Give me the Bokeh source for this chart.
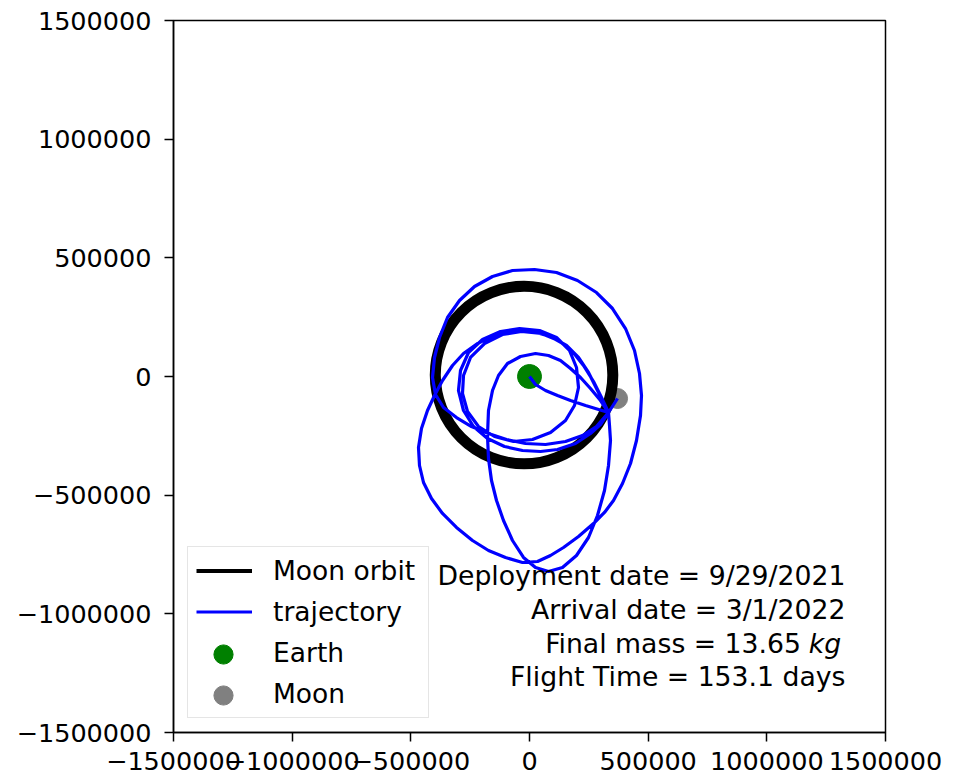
from bokeh.plotting import figure
from bokeh.models import Range1d, FixedTicker, Legend, LegendItem, Label
from bokeh.embed import file_html
from bokeh.resources import INLINE

# ---------------- data ----------------
tick_values = [-1500000, -1000000, -500000, 0, 500000, 1000000, 1500000]
tick_labels = ["\u22121500000", "\u22121000000", "\u2212500000", "0", "500000", "1000000", "1500000"]

earth_x = [0]
earth_y = [0]
moon_x = [371000]
moon_y = [-92700]

moon_orbit_cx = [-23000]
moon_orbit_cy = [6000]
moon_orbit_r = [374000]

# trajectory (km), in flight order
leg1_x = [0, 25300, 67400, 118000, 172800, 236000, 332900]
leg1_y = [0, -33700, -59000, -80100, -101100, -122200, -151700]

leg2_x = [299200, 257000, 214900, 172800, 130600, 80100, 25300, -37900, -92700, -130600,
          -155900, -172800, -177000, -172800, -160100, -139000, -109600, -71600, -25300, 25300,
          80100, 139000, 198000, 248600, 286500, 316000, 332900, 341300, 337100, 332900]
leg2_y = [-101100, -50600, -4200, 33700, 67400, 88500, 96900, 84300, 54800, 4200,
          -59000, -143300, -248600, -345500, -438200, -522500, -606700, -691000, -762600, -804800,
          -821600, -804800, -754200, -678400, -585700, -480300, -375000, -269700, -206500, -151700]

leg3_x = [311800, 282300, 248600, 206500, 155900, 88500, 12600, -71600, -151700, -219100,
          -278100, -324400, -366600, -400300, -429800, -455100, -467700, -463500, -446600, -412900,
          -366600, -307600, -240200, -172800, -101100, -29500, 33700, 88500, 143300, 206500,
          269700, 316000, 353900, 391900, 425600, 450800, 467700, 471900, 463500, 442400,
          404500, 349700, 282300, 202200, 113800, 21100, -71600, -155900, -231700, -294900,
          -345500, -379200, -400300, -408700, -396100, -362400, -307600, -244400, -172800, -96900,
          -16900, 67400, 151700, 223300, 282300, 332900]
leg3_y = [-109600, -50600, 16900, 80100, 130600, 168500, 189600, 189600, 172800, 139000,
          96900, 46300, -16900, -80100, -143300, -219100, -299200, -375000, -446600, -514000,
          -577200, -636200, -691000, -733100, -762600, -783700, -779500, -754200, -720500, -674200,
          -619400, -573000, -522500, -450800, -366600, -269700, -164300, -80100, 12600, 109600,
          202200, 286500, 353900, 404500, 438200, 450800, 446600, 421400, 379200, 320200,
          248600, 164300, 80100, -4200, -75800, -130600, -172800, -210700, -240200, -265500,
          -282300, -286500, -273900, -248600, -210700, -151700]

leg4_x = [299200, 257000, 193800, 118000, 46300, -29500, -105300, -177000, -236000, -278100,
          -299200, -290700, -257000, -198000, -122200, -42100, 42100, 113800, 168500, 198000,
          206500, 189600, 151700, 88500, 12600, -67400, -147500, -214900, -261200, -282300,
          -278100, -248600, -189600, -113800, -33700, 50600, 122200, 181200, 227500, 269700,
          303400, 332900, 370800]
leg4_y = [-202200, -240200, -282300, -307600, -316000, -311800, -294900, -261200, -210700, -143300,
          -59000, 25300, 101100, 155900, 189600, 202200, 193800, 164300, 109600, 37900,
          -46300, -122200, -185400, -236000, -265500, -273900, -252800, -210700, -147500, -71600,
          4200, 80100, 139000, 177000, 189600, 181200, 151700, 105300, 46300, -21100,
          -88500, -151700, -92700]

traj_x = leg1_x + leg2_x + leg3_x + leg4_x
traj_y = leg1_y + leg2_y + leg3_y + leg4_y

legend_labels = ["Moon orbit", "trajectory", "Earth", "Moon"]
info_lines = ["Deployment date = 9/29/2021", "Arrival date = 3/1/2022",
              "Final mass = 13.65", "Flight Time = 153.1 days"]
mass_unit = "kg"

# ---------------- figure ----------------
FONT = "DejaVu Sans"

p = figure(frame_width=712, frame_height=712,
           x_range=Range1d(-1500000, 1500000), y_range=Range1d(-1500000, 1500000),
           output_backend="svg", toolbar_location=None,
           min_border_left=173, min_border_right=68, min_border_top=20, min_border_bottom=42,
           background_fill_color="white", border_fill_color="white")
p.grid.visible = False
p.outline_line_color = "black"
p.outline_line_width = 1.5
p.outline_line_alpha = 1.0

for ax in (p.xaxis[0], p.yaxis[0]):
    ax.ticker = FixedTicker(ticks=tick_values, minor_ticks=[])
    ax.major_label_overrides = {v: l for v, l in zip(tick_values, tick_labels)}
    ax.major_tick_out = 9
    ax.major_tick_in = 0
    ax.minor_tick_out = 0
    ax.minor_tick_in = 0
    ax.axis_line_width = 1.5
    ax.major_tick_line_width = 1.5
    ax.major_label_text_font = FONT
    ax.major_label_text_font_size = "25.5px"
    ax.major_label_text_color = "black"
p.xaxis.major_label_standoff = 10
p.yaxis.major_label_standoff = 13

earth_r = p.scatter(earth_x, earth_y, size=24, color="green")
moon_r = p.scatter(moon_x, moon_y, size=20, color="gray")
p.circle(x=moon_orbit_cx, y=moon_orbit_cy, radius=moon_orbit_r,
         fill_color=None, line_color="black", line_width=11)
# single-point line: invisible on the plot, gives the legend its line sample
orbit_leg = p.line(x=moon_orbit_cx, y=moon_orbit_cy, line_color="black", line_width=4)
traj_r = p.line(traj_x, traj_y, line_color="blue", line_width=3.2, line_join="round")

legend_a = Legend(items=[LegendItem(label=legend_labels[0], renderers=[orbit_leg]),
                         LegendItem(label=legend_labels[1], renderers=[traj_r]),
                         LegendItem(label=legend_labels[2], renderers=[earth_r]),
                         LegendItem(label=legend_labels[3], renderers=[moon_r])],
                  location="bottom_left", margin=14, padding=8, spacing=10,
                  glyph_width=56, glyph_height=31, label_standoff=21, label_width=147,
                  label_text_font=FONT, label_text_font_size="26.5px", label_text_color="black",
                  border_line_color="#cccccc", border_line_width=1,
                  background_fill_color="white", background_fill_alpha=0.8)
p.add_layout(legend_a)

# larger marker samples drawn over the small ones (one overlay per marker)
for rend, vy in ((earth_r, 54.5), (moon_r, 13.5)):
    p.add_layout(Legend(items=[LegendItem(label="", renderers=[rend])],
                        location=(22, vy), margin=0, padding=0, spacing=0,
                        glyph_width=56, glyph_height=48, label_standoff=0, label_width=0,
                        label_text_font_size="1px",
                        border_line_alpha=0, background_fill_alpha=0))

text_x = 1331500
text_ys = [-838500, -981800, -1125000, -1264000]
for i, (t, ty) in enumerate(zip(info_lines, text_ys)):
    tx = 1144000 if i == 2 else text_x
    p.add_layout(Label(x=tx, y=ty, text=t, text_align="right", text_baseline="alphabetic",
                       text_font=FONT, text_font_size="26.7px", text_color="black"))
p.add_layout(Label(x=1313000, y=text_ys[2], text=mass_unit, text_align="right",
                   text_baseline="alphabetic", text_font=FONT, text_font_size="26.7px",
                   text_font_style="italic", text_color="black"))

open("out.html", "w").write(file_html(p, INLINE))
